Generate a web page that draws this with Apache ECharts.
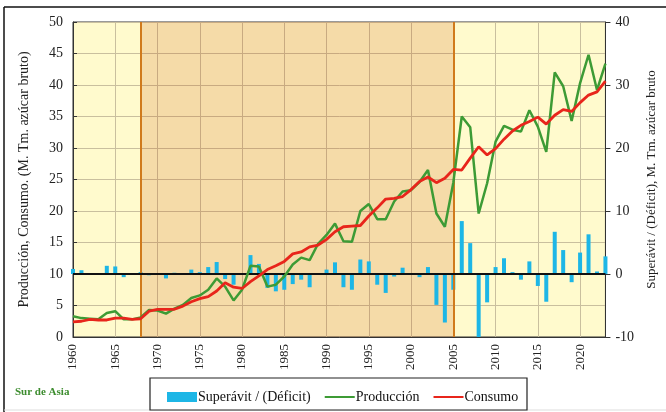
<!DOCTYPE html>
<html>
<head>
<meta charset="utf-8">
<script src="https://cdn.jsdelivr.net/npm/echarts@6/dist/echarts.min.js"></script>
<style>
	html, body { margin: 0; padding: 0; background: #fff; }
	#main { width: 666px; height: 412px; }
</style>
</head>
<body>
<div id="main"></div>
<script>
	// años
	var years = [];
	for (var y = 1960; y <= 2023; y++) years.push(y);

	// Producción (M. Tm.)
	var produccion = [3.3, 3.0, 2.9, 2.8, 3.8, 4.1, 2.8, 2.8, 3.1, 4.3,
		4.2, 3.7, 4.5, 5.1, 6.2, 6.6, 7.5, 9.3, 8.0, 5.8,
		7.5, 11.3, 11.2, 8.0, 8.3, 9.6, 11.5, 12.6, 12.2, 14.8,
		16.2, 18.0, 15.2, 15.1, 20.0, 21.1, 18.7, 18.7, 21.5, 23.1,
		23.3, 24.6, 26.5, 19.6, 17.5, 24.5, 35.0, 33.3, 19.6, 24.4,
		31.0, 33.5, 32.9, 32.6, 36.0, 33.4, 29.4, 42.0, 39.8, 34.3,
		40.3, 44.8, 39.2, 43.4];

	// Consumo (M. Tm.)
	var consumo = [2.4, 2.5, 2.8, 2.7, 2.7, 3.0, 3.0, 2.8, 2.9, 4.1,
		4.4, 4.4, 4.4, 4.9, 5.6, 6.1, 6.4, 7.3, 8.6, 7.9,
		7.7, 8.8, 9.7, 10.7, 11.3, 12.0, 13.2, 13.5, 14.3, 14.6,
		15.5, 16.7, 17.5, 17.6, 17.7, 19.2, 20.5, 21.9, 22.0, 22.3,
		23.4, 24.7, 25.4, 24.5, 25.2, 26.6, 26.5, 28.4, 30.2, 28.9,
		29.9, 31.4, 32.7, 33.6, 34.2, 34.9, 33.8, 35.2, 36.1, 35.8,
		37.2, 38.4, 38.9, 40.6];

	// Superávit / (Déficit) (eje derecho)
	var superavit = [0.8, 0.6, 0.15, 0.1, 1.3, 1.2, -0.5, 0.1, 0.3, -0.2,
		0.1, -0.7, 0.2, 0.1, 0.7, 0.3, 1.1, 1.9, -0.8, -1.7,
		-0.1, 3.0, 1.6, -2.2, -2.75, -2.5, -1.6, -0.9, -2.1, 0.1,
		0.7, 1.85, -2.1, -2.5, 2.3, 2.0, -1.7, -3.0, -0.4, 1.0,
		0.1, -0.5, 1.1, -4.9, -7.7, -2.5, 8.4, 4.9, -10.6, -4.5,
		1.1, 2.5, 0.3, -0.9, 2.0, -1.9, -4.4, 6.7, 3.8, -1.3,
		3.4, 6.3, 0.4, 2.8];

	// periodos marcados
	var periodo = [1968, 2005];

	function pairs(arr) {
		return years.map(function(yr, i) { return [yr, arr[i]]; });
	}

	var serif = '"Liberation Serif", "DejaVu Serif", serif';
	var myChart = echarts.init(document.getElementById('main'));

	option = {
		animation: false,
		backgroundColor: '#ffffff',
		textStyle: { fontFamily: serif },
		grid: {
			left: 73, right: 53, top: 22, bottom: 75,
			show: true,
			backgroundColor: '#FFFACD',
			borderColor: '#333',
			borderWidth: 1
		},
		graphic: [
			{ type: 'line', shape: { x1: 4, y1: 7, x2: 666, y2: 7 }, style: { stroke: '#111', lineWidth: 1.5 } },
			{ type: 'line', shape: { x1: 4, y1: 7, x2: 4, y2: 412 }, style: { stroke: '#111', lineWidth: 1.5 } },
			{ type: 'line', shape: { x1: 4, y1: 410, x2: 666, y2: 410 }, style: { stroke: '#ddd', lineWidth: 1 } },
			{ type: 'text', left: 15, top: 387, style: { text: 'Sur de Asia', font: 'bold 11px ' + serif, fill: '#3C8C2E' } },
			{ type: 'rect', shape: { x: 150, y: 378, width: 377, height: 32 }, style: { fill: '#fff', stroke: '#222', lineWidth: 1.2 }, z: 0 }
		],
		legend: {
			left: 162, top: 385,
			itemGap: 14,
			itemWidth: 30, itemHeight: 10,
			textStyle: { fontFamily: serif, fontSize: 14, color: '#111', padding: [0, 0, 0, -4] },
			data: [
				{ name: 'Superávit / (Déficit)', icon: 'rect' },
				{ name: 'Producción', icon: 'path://M0,4h30v2h-30z', itemStyle: { color: '#3D9B35' } },
				{ name: 'Consumo', icon: 'path://M0,4h30v2h-30z', itemStyle: { color: '#E8251B' } }
			]
		},
		xAxis: {
			type: 'value',
			min: 1960, max: 2023, interval: 5,
			axisLine: { lineStyle: { color: '#333' } },
			axisTick: { show: false },
			axisLabel: {
				rotate: 90, color: '#222', fontSize: 13, fontFamily: serif, margin: 7,
				showMaxLabel: false,
				formatter: function(v) { return v % 5 === 0 ? v : ''; }
			},
			splitLine: { show: true, lineStyle: { color: '#C9BF9E', width: 1 } }
		},
		yAxis: [{
			type: 'value',
			min: 0, max: 50, interval: 5,
			name: 'Producción, Consumo. (M. Tm. azúcar bruto)',
			nameLocation: 'middle', nameGap: 42, nameRotate: 90,
			nameTextStyle: { fontFamily: serif, fontSize: 14, color: '#222' },
			axisLine: { show: true, lineStyle: { color: '#333' } },
			axisTick: { show: true, inside: true, length: 4, lineStyle: { color: '#333' } },
			axisLabel: { color: '#222', fontSize: 14, fontFamily: serif, margin: 10 },
			splitLine: { show: true, lineStyle: { color: '#C9BF9E', width: 1 } }
		}, {
			type: 'value',
			min: -10, max: 40, interval: 10,
			name: 'Superávit / (Déficit), M. Tm. azúcar bruto',
			nameLocation: 'middle', nameGap: 37, nameRotate: 90,
			nameTextStyle: { fontFamily: serif, fontSize: 13, color: '#222' },
			axisLine: { show: true, lineStyle: { color: '#333' } },
			axisTick: { show: true, length: 5, lineStyle: { color: '#333' } },
			axisLabel: { color: '#222', fontSize: 14, fontFamily: serif, margin: 10 },
			splitLine: { show: false }
		}],
		series: [{
			name: 'Superávit / (Déficit)',
			type: 'bar',
			yAxisIndex: 1,
			barWidth: 4,
			clip: true,
			itemStyle: { color: '#1DB6E6' },
			data: pairs(superavit),
			z: 2
		}, {
			// sombreado del periodo y líneas verticales
			name: 'periodo',
			type: 'line',
			data: [],
			z: 3,
			silent: true,
			markArea: {
				silent: true,
				itemStyle: { color: 'rgba(200,80,0,0.18)' },
				data: [[{ xAxis: periodo[0] }, { xAxis: periodo[1] }]]
			},
			markLine: {
				silent: true, symbol: 'none',
				label: { show: false },
				lineStyle: { color: '#D07A1C', width: 2, type: 'solid' },
				data: [{ xAxis: periodo[0] }, { xAxis: periodo[1] }]
			}
		}, {
			name: 'cero',
			type: 'line',
			yAxisIndex: 1,
			data: [],
			z: 4,
			markLine: {
				silent: true, symbol: 'none',
				label: { show: false },
				lineStyle: { color: '#111', width: 2, type: 'solid' },
				data: [{ yAxis: 0 }]
			}
		}, {
			name: 'Producción',
			type: 'line',
			showSymbol: false,
			lineStyle: { color: '#3D9B35', width: 2.5 },
			itemStyle: { color: '#3D9B35' },
			data: pairs(produccion),
			z: 5
		}, {
			name: 'Consumo',
			type: 'line',
			showSymbol: false,
			lineStyle: { color: '#E8251B', width: 2.8 },
			itemStyle: { color: '#E8251B' },
			data: pairs(consumo),
			z: 6
		}]
	};

	myChart.setOption(option);
</script>
</body>
</html>
